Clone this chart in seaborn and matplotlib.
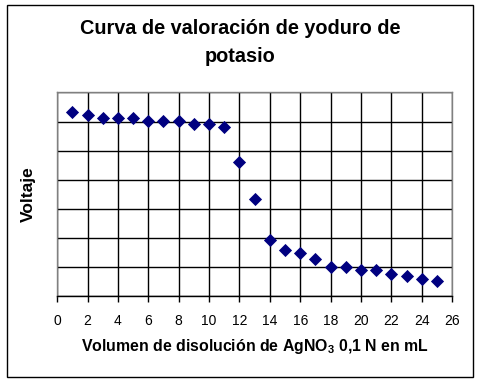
import numpy as np
import pandas as pd
import seaborn as sns
import matplotlib.pyplot as plt
from matplotlib.patches import Rectangle

# volumen de AgNO3 (mL) y voltaje (mV aprox.)
volumen = [1, 2, 3, 4, 5, 6, 7, 8, 9, 10, 11, 12, 13,
           14, 15, 16, 17, 18, 19, 20, 21, 22, 23, 24, 25]
voltaje = [317, 312, 307, 307, 307, 301, 301, 301, 296, 296, 291, 231, 167,
           96, 80, 75, 65, 50, 50, 45, 45, 39, 35, 30, 26]
x_ticks = list(range(0, 27, 2))

dados = pd.DataFrame({'volumen': volumen, 'voltaje': voltaje})

sns.set_style('white')
plt.rcParams['font.family'] = ['Liberation Sans', 'DejaVu Sans']
plt.rcParams['mathtext.fontset'] = 'custom'
plt.rcParams['mathtext.rm'] = 'Liberation Sans'
plt.rcParams['mathtext.bf'] = 'Liberation Sans:bold'
plt.rcParams['text.color'] = 'black'
plt.rcParams['axes.labelcolor'] = 'black'
plt.rcParams['xtick.color'] = 'black'

fig = plt.figure(figsize=(4.8, 3.82), dpi=100)
ax = fig.add_axes([0.119, 0.224, 0.823, 0.534])

ax.set_axisbelow(True)
ax.grid(True, color='black', linewidth=1)
sns.scatterplot(x='volumen', y='voltaje', data=dados, ax=ax,
                marker='D', s=45, color='#000080', edgecolor='#000080',
                linewidth=0, zorder=3, clip_on=False)

ax.set_xlim(0, 26)
ax.set_ylim(0, 350)
ax.set_xticks(x_ticks)
ax.set_yticks(range(0, 351, 50))
ax.set_yticklabels([])
ax.tick_params(axis='x', bottom=True, length=4, width=1, color='black',
               labelsize=10, pad=9, labelcolor='black')
ax.tick_params(axis='y', left=False, length=0)

for lado in ['top', 'right', 'left']:
    ax.spines[lado].set_color('#808080')
    ax.spines[lado].set_linewidth(1)
ax.spines['bottom'].set_color('black')
ax.spines['bottom'].set_linewidth(1)

ax.set_xlabel(r'Volumen de disolución de AgNO$_\mathbf{3}$ 0,1 N en mL',
              fontsize=11.4, fontweight='bold', labelpad=6)
ax.set_ylabel('Voltaje', fontsize=12.5, fontweight='bold')
ax.yaxis.set_label_coords(-0.053, 0.5)

fig.text(0.5, 1 - 34.3 / 382, 'Curva de valoración de yoduro de',
         ha='center', va='baseline', fontsize=14.3, fontweight='bold')
fig.text(0.5, 1 - 61.7 / 382, 'potasio',
         ha='center', va='baseline', fontsize=14.3, fontweight='bold')

fig.patches.append(Rectangle((7 / 480, 5 / 382), 466 / 480, 372 / 382,
                             transform=fig.transFigure, fill=False,
                             edgecolor='black', linewidth=1))

fig.savefig('out.png', dpi=100)
